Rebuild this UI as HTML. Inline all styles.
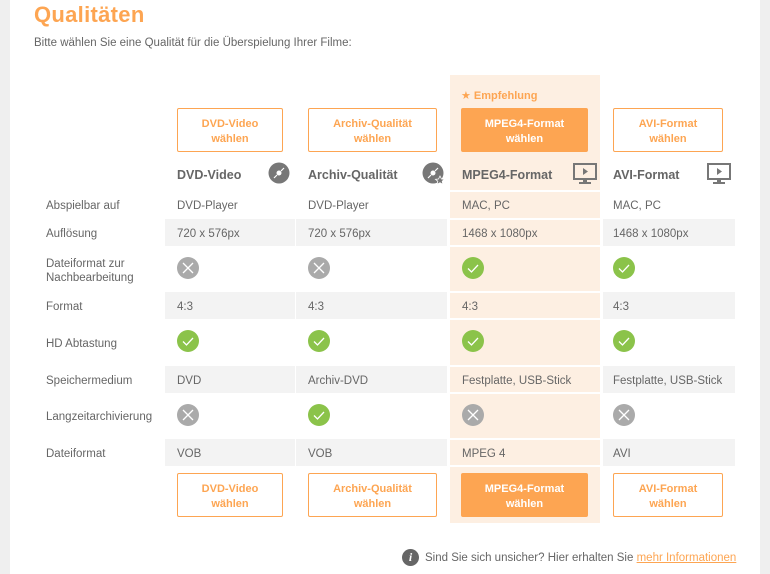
<!DOCTYPE html>
<html><head><meta charset="utf-8"><style>
*{margin:0;padding:0;box-sizing:border-box}
body{width:770px;height:574px;background:#efefef;font-family:"Liberation Sans","DejaVu Sans",sans-serif;position:relative;overflow:hidden;color:#666}
.panel{position:absolute;left:10px;top:0;width:750px;height:574px;background:#fff}
.a{position:absolute}
h1{position:absolute;left:34px;top:2px;font-size:22px;color:#fda552;font-weight:bold;letter-spacing:0.3px}
.sub{left:34px;top:35px;font-size:11.5px;color:#666}
.hl{left:450px;top:75px;width:150px;height:448px;background:#fdefe2}
.g{position:absolute;height:27px;background:#f3f3f3}
.t{position:absolute;font-size:11.5px;color:#666;line-height:14px;margin-top:1px}
.btn{position:absolute;height:44px;border:1px solid #fda552;border-radius:2px;color:#fda552;font-size:11px;font-weight:bold;text-align:center;line-height:15px;padding-top:8px;background:#fff}
.btn.f{background:#fda552;color:#fff}
.nm{position:absolute;top:168px;font-size:12.5px;font-weight:bold;color:#666}
.ic{position:absolute;width:22px;height:22px;border-radius:50%}
.ok{background:#8bc34a}
.no{background:#aaa}
.ic svg{position:absolute;left:0;top:0}
.sep{position:absolute;left:450px;width:150px;height:2px;background:#fff}
</style></head><body>
<div class="panel"></div>
<h1>Qualitäten</h1>
<div class="a t sub">Bitte wählen Sie eine Qualität für die Überspielung Ihrer Filme:</div>
<div class="a hl"></div>
<div class="g" style="left:165px;top:219px;width:130px"></div><div class="g" style="left:296px;top:219px;width:151px"></div><div class="g" style="left:603px;top:219px;width:132px"></div>
<div class="g" style="left:165px;top:292px;width:130px"></div><div class="g" style="left:296px;top:292px;width:151px"></div><div class="g" style="left:603px;top:292px;width:132px"></div>
<div class="g" style="left:165px;top:366px;width:130px"></div><div class="g" style="left:296px;top:366px;width:151px"></div><div class="g" style="left:603px;top:366px;width:132px"></div>
<div class="g" style="left:165px;top:439px;width:130px"></div><div class="g" style="left:296px;top:439px;width:151px"></div><div class="g" style="left:603px;top:439px;width:132px"></div>
<div class="sep" style="top:190px"></div><div class="sep" style="top:218px"></div><div class="sep" style="top:245px"></div><div class="sep" style="top:291px"></div><div class="sep" style="top:318px"></div><div class="sep" style="top:365px"></div><div class="sep" style="top:392px"></div><div class="sep" style="top:438px"></div><div class="sep" style="top:465px"></div>
<div class="a" style="left:461px;top:89px;font-size:11px;font-weight:bold;color:#fda552">★ Empfehlung</div>
<div class="btn" style="left:177px;top:108px;width:106px">DVD-Video<br>wählen</div>
<div class="btn" style="left:308px;top:108px;width:129px">Archiv-Qualität<br>wählen</div>
<div class="btn f" style="left:461px;top:108px;width:127px">MPEG4-Format<br>wählen</div>
<div class="btn" style="left:613px;top:108px;width:110px">AVI-Format<br>wählen</div>
<div class="nm" style="left:177px">DVD-Video</div>
<div class="nm" style="left:308px">Archiv-Qualität</div>
<div class="nm" style="left:462px">MPEG4-Format</div>
<div class="nm" style="left:613px">AVI-Format</div>
<svg class="a" style="left:268px;top:162px" width="22" height="22" viewBox="0 0 22 22"><circle cx="11" cy="11" r="10.5" fill="#777"/><circle cx="11" cy="11" r="2.5" fill="#fff"/><path d="M6 16 L9 13 M13 9 L16 6" stroke="#fff" stroke-width="1.2"/></svg>
<svg class="a" style="left:422px;top:162px" width="24" height="24" viewBox="0 0 24 24"><circle cx="11" cy="11" r="10.5" fill="#777"/><circle cx="11" cy="11" r="2.5" fill="#fff"/><path d="M6 16 L9 13 M13 9 L16 6" stroke="#fff" stroke-width="1.2"/><path d="M18 14 l1.5 3 3 .3 -2.3 2 .7 3 -2.9-1.6 -2.9 1.6 .7-3 -2.3-2 3-.3z" fill="#777" stroke="#fff" stroke-width="0.8"/></svg>
<svg class="a" style="left:573px;top:163px" width="24" height="22" viewBox="0 0 24 22"><rect x="1" y="1" width="22" height="15" fill="none" stroke="#777" stroke-width="2"/><path d="M10 5 L15 8.5 L10 12z" fill="#777"/><rect x="10" y="16" width="4" height="3" fill="#777"/><rect x="6" y="19" width="12" height="2" fill="#777"/></svg>
<svg class="a" style="left:707px;top:163px" width="24" height="22" viewBox="0 0 24 22"><rect x="1" y="1" width="22" height="15" fill="none" stroke="#777" stroke-width="2"/><path d="M10 5 L15 8.5 L10 12z" fill="#777"/><rect x="10" y="16" width="4" height="3" fill="#777"/><rect x="6" y="19" width="12" height="2" fill="#777"/></svg>
<div class="t" style="left:46px;top:198px">Abspielbar auf</div>
<div class="t" style="left:46px;top:226px">Auflösung</div>
<div class="t" style="left:46px;top:256px">Dateiformat zur<br>Nachbearbeitung</div>
<div class="t" style="left:46px;top:299px">Format</div>
<div class="t" style="left:46px;top:336px">HD Abtastung</div>
<div class="t" style="left:46px;top:373px">Speichermedium</div>
<div class="t" style="left:46px;top:409px">Langzeitarchivierung</div>
<div class="t" style="left:46px;top:446px">Dateiformat</div>
<div class="t" style="left:177px;top:198px">DVD-Player</div><div class="t" style="left:308px;top:198px">DVD-Player</div><div class="t" style="left:462px;top:198px">MAC, PC</div><div class="t" style="left:613px;top:198px">MAC, PC</div>
<div class="t" style="left:177px;top:226px">720 x 576px</div><div class="t" style="left:308px;top:226px">720 x 576px</div><div class="t" style="left:462px;top:226px">1468 x 1080px</div><div class="t" style="left:613px;top:226px">1468 x 1080px</div>
<div class="t" style="left:177px;top:299px">4:3</div><div class="t" style="left:308px;top:299px">4:3</div><div class="t" style="left:462px;top:299px">4:3</div><div class="t" style="left:613px;top:299px">4:3</div>
<div class="t" style="left:177px;top:373px">DVD</div><div class="t" style="left:308px;top:373px">Archiv-DVD</div><div class="t" style="left:462px;top:373px">Festplatte, USB-Stick</div><div class="t" style="left:613px;top:373px">Festplatte, USB-Stick</div>
<div class="t" style="left:177px;top:446px">VOB</div><div class="t" style="left:308px;top:446px">VOB</div><div class="t" style="left:462px;top:446px">MPEG 4</div><div class="t" style="left:613px;top:446px">AVI</div>
<div class="ic no" style="left:177px;top:257px"><svg width="22" height="22"><path d="M6 6L16 16M16 6L6 16" stroke="#fff" stroke-width="1.3"/></svg></div>
<div class="ic no" style="left:308px;top:257px"><svg width="22" height="22"><path d="M6 6L16 16M16 6L6 16" stroke="#fff" stroke-width="1.3"/></svg></div>
<div class="ic ok" style="left:462px;top:257px"><svg width="22" height="22"><path d="M6 11.5L9.5 15L16 8" stroke="#fff" stroke-width="1.3" fill="none"/></svg></div>
<div class="ic ok" style="left:613px;top:257px"><svg width="22" height="22"><path d="M6 11.5L9.5 15L16 8" stroke="#fff" stroke-width="1.3" fill="none"/></svg></div>
<div class="ic ok" style="left:177px;top:330px"><svg width="22" height="22"><path d="M6 11.5L9.5 15L16 8" stroke="#fff" stroke-width="1.3" fill="none"/></svg></div>
<div class="ic ok" style="left:308px;top:330px"><svg width="22" height="22"><path d="M6 11.5L9.5 15L16 8" stroke="#fff" stroke-width="1.3" fill="none"/></svg></div>
<div class="ic ok" style="left:462px;top:330px"><svg width="22" height="22"><path d="M6 11.5L9.5 15L16 8" stroke="#fff" stroke-width="1.3" fill="none"/></svg></div>
<div class="ic ok" style="left:613px;top:330px"><svg width="22" height="22"><path d="M6 11.5L9.5 15L16 8" stroke="#fff" stroke-width="1.3" fill="none"/></svg></div>
<div class="ic no" style="left:177px;top:404px"><svg width="22" height="22"><path d="M6 6L16 16M16 6L6 16" stroke="#fff" stroke-width="1.3"/></svg></div>
<div class="ic ok" style="left:308px;top:404px"><svg width="22" height="22"><path d="M6 11.5L9.5 15L16 8" stroke="#fff" stroke-width="1.3" fill="none"/></svg></div>
<div class="ic no" style="left:462px;top:404px"><svg width="22" height="22"><path d="M6 6L16 16M16 6L6 16" stroke="#fff" stroke-width="1.3"/></svg></div>
<div class="ic no" style="left:613px;top:404px"><svg width="22" height="22"><path d="M6 6L16 16M16 6L6 16" stroke="#fff" stroke-width="1.3"/></svg></div>
<div class="btn" style="left:177px;top:473px;width:106px">DVD-Video<br>wählen</div>
<div class="btn" style="left:308px;top:473px;width:129px">Archiv-Qualität<br>wählen</div>
<div class="btn f" style="left:461px;top:473px;width:127px">MPEG4-Format<br>wählen</div>
<div class="btn" style="left:613px;top:473px;width:110px">AVI-Format<br>wählen</div>
<div class="a" style="left:402px;top:549px;width:17px;height:17px;border-radius:50%;background:#666;color:#fff;font-size:12px;font-weight:bold;font-style:italic;text-align:center;line-height:17px;font-family:'Liberation Serif',serif">i</div>
<div class="t" style="left:425px;top:550px">Sind Sie sich unsicher? Hier erhalten Sie <span style="color:#fda552;text-decoration:underline">mehr Informationen</span></div>
</body></html>
